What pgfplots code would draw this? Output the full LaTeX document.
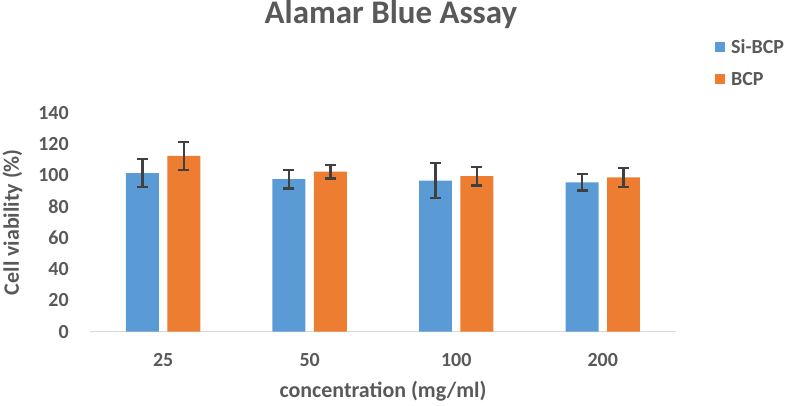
\documentclass[border=0pt]{standalone}
\usepackage{fontspec}
\setmainfont{Carlito}
\usepackage{pgfplots}
\pgfplotsset{compat=1.18}
\definecolor{siblue}{HTML}{5B9BD5}
\definecolor{bcporange}{HTML}{ED7D31}
\definecolor{txtgray}{HTML}{595959}
\definecolor{errgray}{HTML}{404040}
\definecolor{axgray}{HTML}{D9D9D9}
\begin{document}
\begin{tikzpicture}[x=1pt,y=1pt]
\path (0,0) rectangle (787,406);
\begin{axis}[
  at={(90pt,74pt)}, anchor=south west,
  scale only axis, width=587pt, height=219pt,
  xmin=-0.5, xmax=3.5, ymin=0, ymax=140,
  ybar, bar width=33pt,
  axis x line=bottom, axis y line=left,
  x axis line style={draw=axgray, line width=1.5pt, -},
  y axis line style={draw=none},
  xtick={0,1,2,3}, xticklabels={25,50,100,200},
  ytick={0,20,...,140},
  tick style={draw=none},
  major tick length=0pt,
  /pgf/number format/assume math mode=true,
  ticklabel style={font=\fontsize{20}{24}\selectfont\bfseries, text=txtgray},
  xticklabel style={anchor=base, inner sep=0pt, yshift=-35pt},
  yticklabel style={anchor=east, inner sep=0pt, xshift=-21pt},
  xlabel={concentration (mg/ml)},
  xlabel style={at={(axis description cs:0.5,-0.301)}, anchor=base, inner sep=0pt, font=\fontsize{22}{26}\selectfont\bfseries, text=txtgray},
  ylabel={Cell viability (\%)},
  ylabel style={at={(axis description cs:-0.132,0.50)}, anchor=center, inner sep=0pt, font=\fontsize{22}{26}\selectfont\bfseries, text=txtgray},
  title={Alamar Blue Assay},
  title style={at={(axis description cs:0.5136,1.380)}, anchor=base, inner sep=0pt, font=\fontsize{33}{38}\selectfont\bfseries, text=txtgray},
  legend style={at={(axis description cs:1.0613,1.350)}, anchor=north west, draw=none, fill=none,
    font=\fontsize{20}{24}\selectfont\bfseries, text=txtgray, row sep=11pt, inner sep=0pt,
    nodes={inner sep=3pt}},
  legend image code/.code={\path (-3pt,0pt) (13pt,0pt); \fill[#1] (0pt,-5pt) rectangle (10pt,5pt);},
  legend cell align=left,
  error bars/error bar style={errgray, line width=2.2pt},
  error bars/error mark options={rotate=90, mark size=5.5pt, line width=2.2pt, errgray},
  clip=false,
]
\addplot+[fill=siblue, draw=none, bar shift=-20.75pt,
  error bars/.cd, y dir=both, y explicit]
  coordinates {(0,101.4) +- (0,9) (1,97.6) +- (0,6) (2,96.6) +- (0,11.1) (3,95.5) +- (0,5.2)};
\addlegendentry{Si-BCP}
\addplot+[fill=bcporange, draw=none, bar shift=20.75pt,
  error bars/.cd, y dir=both, y explicit]
  coordinates {(0,112.5) +- (0,9) (1,102.3) +- (0,4.3) (2,99.5) +- (0,6) (3,98.7) +- (0,6.1)};
\addlegendentry{BCP}
\end{axis}
\end{tikzpicture}
\end{document}
